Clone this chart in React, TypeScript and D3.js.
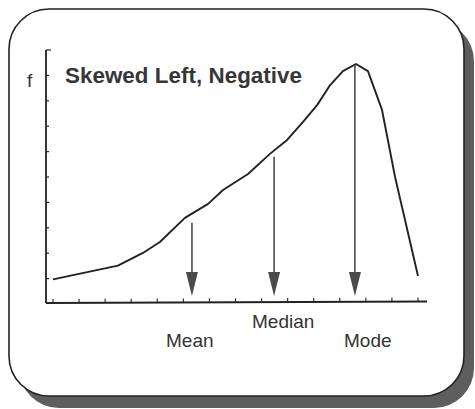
import * as d3 from "d3";
import { useEffect, useRef } from "react";

// curve samples (x in tick units along the axis, y in frequency units)
const curveX = [0, 2.49, 3.45, 4.1, 5.06, 5.95, 6.52, 7.48, 8.32, 8.98, 9.59, 10.13, 10.63, 11.12, 11.62, 12.08, 12.62, 13.12, 14];
const curveY = [0.97, 1.51, 2.01, 2.44, 3.39, 3.94, 4.49, 5.12, 5.91, 6.46, 7.17, 7.83, 8.62, 9.17, 9.45, 9.17, 7.64, 5.0, 1.1];

// mean / median / mode markers
const statLabels = ["Mean", "Median", "Mode"];
const statX = [5.33, 8.48, 11.58];
const statTop = [3.2, 5.8, 9.4];

const xTicks = d3.range(0, 15);
const yTicks = d3.range(1, 11);

const title = "Skewed Left, Negative";
const yLabel = "f";

export default function App() {
  const svgRef = useRef<SVGSVGElement>(null);
  const width = 475;
  const height = 409;

  useEffect(() => {
    if (!svgRef.current) return;
    const svg = d3.select(svgRef.current);
    svg.selectAll("*").remove();

    const ink = "#222";
    const font = "'Liberation Sans', Arial, Helvetica, sans-serif";

    // card shadow + card
    svg
      .append("rect")
      .attr("x", 19)
      .attr("y", 21)
      .attr("width", 455)
      .attr("height", 387)
      .attr("rx", 40)
      .style("fill", "#5e5e5e");

    svg
      .append("rect")
      .attr("x", 9)
      .attr("y", 9)
      .attr("width", 455)
      .attr("height", 387)
      .attr("rx", 40)
      .style("fill", "#fff")
      .style("stroke", ink)
      .style("stroke-width", 1.6);

    // Scales
    const x0 = 46;
    const yBase = 303;
    const xScale = d3.scaleLinear().domain([0, 14]).range([53, 418]);
    const yScale = d3.scaleLinear().domain([0, 10]).range([304, 50]);

    const g = svg.append("g");

    // Axes
    g.append("line")
      .attr("x1", x0)
      .attr("x2", x0)
      .attr("y1", yScale(10))
      .attr("y2", yBase)
      .style("stroke", ink)
      .style("stroke-width", 1.8);

    g.append("line")
      .attr("x1", x0)
      .attr("x2", 427)
      .attr("y1", yBase)
      .attr("y2", yBase - 1.5)
      .style("stroke", ink)
      .style("stroke-width", 1.8);

    g.selectAll(".ytick")
      .data(yTicks)
      .enter()
      .append("line")
      .attr("class", "ytick")
      .attr("x1", x0)
      .attr("x2", (d) => (d === 10 ? x0 + 5 : x0 + 3))
      .attr("y1", (d) => yScale(d))
      .attr("y2", (d) => yScale(d))
      .style("stroke", ink)
      .style("stroke-width", 1.2);

    g.selectAll(".xtick")
      .data(xTicks)
      .enter()
      .append("line")
      .attr("class", "xtick")
      .attr("x1", (d) => xScale(d))
      .attr("x2", (d) => xScale(d))
      .attr("y1", (d) => yBase - 0.5 - (d / 14) * 1.5)
      .attr("y2", (d) => yBase - 4 - (d / 14) * 1.5)
      .style("stroke", ink)
      .style("stroke-width", 1.1);

    // Curve
    const pts = curveX.map((v, i) => [xScale(v), yScale(curveY[i])] as [number, number]);
    g.append("path")
      .attr("d", d3.line()(pts))
      .style("fill", "none")
      .style("stroke", ink)
      .style("stroke-width", 1.9)
      .style("stroke-linejoin", "round");

    // Arrows
    const headH = 24;
    const headW = 12;
    const tipY = 296;
    statX.forEach((sx, i) => {
      const px = xScale(sx);
      g.append("line")
        .attr("x1", px)
        .attr("x2", px)
        .attr("y1", yScale(statTop[i]))
        .attr("y2", tipY - headH + 2)
        .style("stroke", "#333")
        .style("stroke-width", 1.4);
      g.append("path")
        .attr(
          "d",
          `M${px - headW / 2},${tipY - headH} L${px + headW / 2},${tipY - headH} L${px},${tipY} Z`,
        )
        .style("fill", "#4a4a4a");
    });

    // Stat labels
    const labelPos = [
      [166, 347],
      [252, 328],
      [344, 347],
    ];
    statLabels.forEach((lab, i) => {
      svg
        .append("text")
        .attr("x", labelPos[i][0])
        .attr("y", labelPos[i][1])
        .style("font-family", font)
        .style("font-size", "19px")
        .style("fill", "#333")
        .text(lab);
    });

    // Title
    svg
      .append("text")
      .attr("x", 65)
      .attr("y", 83)
      .attr("textLength", 237)
      .style("font-family", font)
      .style("font-size", "22.4px")
      .style("font-weight", "bold")
      .style("fill", "#363636")
      .text(title);

    // y label
    svg
      .append("text")
      .attr("x", 27)
      .attr("y", 87)
      .style("font-family", font)
      .style("font-size", "19px")
      .style("fill", "#333")
      .text(yLabel);
  }, []);

  return (
    <div style={{ position: "absolute", left: 0, top: 0 }}>
      <svg ref={svgRef} width={width} height={height} style={{ display: "block", background: "#fff" }} />
    </div>
  );
}
